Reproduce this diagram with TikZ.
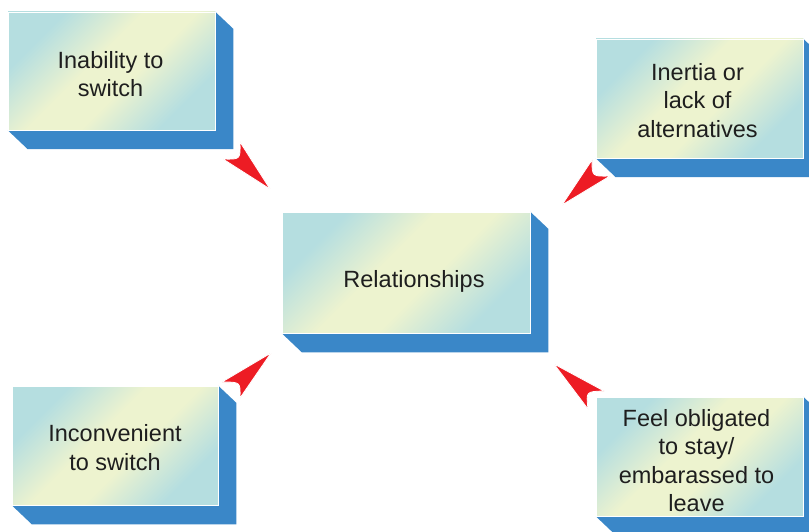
\documentclass[tikz,border=0pt]{standalone}
\usepackage{fontspec}
\setmainfont{Liberation Sans}
\definecolor{sideblue}{HTML}{3A87C8}
\definecolor{facecyan}{HTML}{B5DEE0}
\definecolor{faceyellow}{HTML}{EDF3CF}
\definecolor{dartred}{HTML}{ED1C24}
\definecolor{txtcol}{HTML}{1E1E1E}
\pgfdeclarelayer{bg}
\pgfsetlayers{bg,main}
\pgfdeclareverticalshading{facesh}{100bp}{color(0bp)=(facecyan); color(27bp)=(facecyan);
  color(44bp)=(faceyellow); color(56bp)=(faceyellow); color(73bp)=(facecyan); color(100bp)=(facecyan)}
\newcommand\boxside[1]{%
  \begin{pgfonlayer}{bg}
  \fill[sideblue] (#1.north east) -- ([shift={(18,17)}]#1.north east)
    -- ([shift={(18,19)}]#1.south east) -- ([shift={(20,19)}]#1.south west)
    -- (#1.south west) -- (#1.south east) -- cycle;
  \end{pgfonlayer}}
\begin{document}
\begin{tikzpicture}[x=1pt,y=-1pt,
  face/.style={inner sep=0pt, draw=white, line width=0.5pt,
    shading=facesh, shading angle=45},
  lbl/.style={inner sep=0pt, align=center, text=txtcol,
    font=\fontsize{23.5}{28.5}\selectfont},
  dart/.style={fill=dartred, draw=white, line width=0.8pt, line join=round}]
\begin{pgfonlayer}{bg}
\fill[white] (0,0) rectangle (809,532);
\end{pgfonlayer}
\useasboundingbox (0,0) rectangle (809,532);

\node[face, minimum width=207pt, minimum height=118pt] (inab) at (111.5,71) {};
\node[face, minimum width=248pt, minimum height=121pt] (rel) at (406,272.5) {};
\node[face, minimum width=207pt, minimum height=119pt] (iner) at (699.5,98.5) {};
\node[face, minimum width=206pt, minimum height=119pt] (inco) at (115,445.5) {};
\node[face, minimum width=207pt, minimum height=119pt] (feel) at (699.5,456.5) {};

\node[lbl] (inabt) at ([shift={(-1,3)}]inab.center) {Inability to\\switch};
\node[lbl] (relt) at ([shift={(8,9)}]rel.center) {Relationships};
\node[lbl] (inert) at ([shift={(-2,2)}]iner.center) {Inertia or\\lack of\\alternatives};
\node[lbl] (incot) at ([shift={(0,2)}]inco.center) {Inconvenient\\to switch};
\node[lbl] (feelt) at ([shift={(-3,4)}]feel.center) {Feel obligated\\to stay/\\embarassed to\\leave};

\boxside{inab}
\boxside{rel}
\boxside{iner}
\boxside{inco}
\boxside{feel}

\draw[dart] (270,189) -- (223,159) .. controls (240.5,159.5) .. (240,142) -- cycle;
\draw[dart] (562,205) -- (592,160) .. controls (592,176.5) .. (610,176) -- cycle;
\draw[dart] (554,364) -- (604,391) .. controls (586,391.5) .. (588,409) -- cycle;
\draw[dart] (271,353) -- (222,382) .. controls (240.5,382) .. (240,398) -- cycle;
\end{tikzpicture}
\end{document}
